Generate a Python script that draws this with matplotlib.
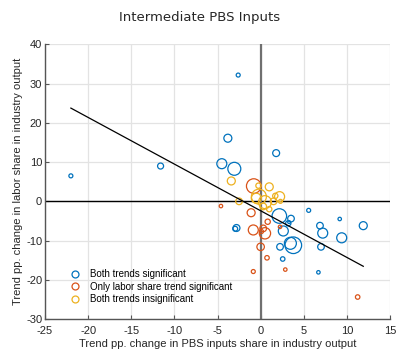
import matplotlib
matplotlib.use('Agg')
import matplotlib.pyplot as plt
from matplotlib.lines import Line2D
import numpy as np

# both trends significant
sig_x = [-22.0, -11.6, -2.6, -3.8, -4.5, -3.05, 1.8, -2.8, -2.95, 2.17, 3.52, 3.21, 3.3,
         2.63, 5.57, 6.88, 7.2, 9.17, 11.9, 9.4, 7.0, 3.79, 3.45, 2.25, 2.56, 6.7]
sig_y = [6.5, 9.0, 32.2, 16.1, 9.6, 8.3, 12.3, -6.8, -7.0, -3.74, -4.4, -5.6, -5.3,
         -7.56, -2.3, -6.2, -8.1, -4.5, -6.2, -9.3, -11.6, -11.2, -10.7, -11.6, -14.7, -18.1]
sig_w = [4, 9, 4, 16, 25, 42, 12, 12, 6, 53, 11, 7, 2,
         25, 4, 11, 25, 3, 16, 25, 11, 69, 36, 11, 5, 3]

# only labor share trend significant
lab_x = [-0.8, -1.1, 0.82, 2.25, -0.85, 0.3, 0.5, 0.0, 0.74, -0.85, 2.86, 11.25, -4.6, 0.1]
lab_y = [3.9, -2.9, -5.2, -6.5, -7.3, -6.9, -8.15, -11.6, -14.4, -17.9, -17.4, -24.4, -1.2, -7.7]
lab_w = [53, 16, 7, 3, 25, 11, 32, 14, 5, 4, 3, 5, 3, 4]

# both trends insignificant
ins_x = [-3.4, -2.5, -0.25, 1.0, -0.2, 2.2, 1.5, 0.3, 0.5, 1.7, 1.0, 2.3, -0.5]
ins_y = [5.2, 0.0, 4.0, 3.7, 1.2, 1.2, 0.0, -1.3, -0.2, 1.4, -2.0, 0.0, 0.8]
ins_w = [16, 11, 7, 16, 56, 25, 11, 11, 42, 7, 7, 4, 25]

# fitted line
fit_slope = -1.19
fit_icpt = -2.4

c_blue = '#0072BD'
c_orange = '#D95319'
c_yellow = '#EDB120'

plt.rcParams['font.family'] = ['Liberation Sans', 'DejaVu Sans']
plt.rcParams['axes.unicode_minus'] = False

fig = plt.figure(figsize=(4.0, 3.52), dpi=100)
ax = fig.add_axes([0.1125, 0.0938, 0.8625, 0.7798])

k = 2.07  # radius^2 (px) -> points^2
for xs, ys, ws, col in [(sig_x, sig_y, sig_w, c_blue),
                        (lab_x, lab_y, lab_w, c_orange),
                        (ins_x, ins_y, ins_w, c_yellow)]:
    ax.scatter(xs, ys, s=np.array(ws) * k, facecolors='none', edgecolors=col,
               linewidths=0.9, zorder=3)

all_x = np.array(sig_x + lab_x + ins_x)
xf = np.array([all_x.min(), all_x.max()])
ax.plot(xf, fit_icpt + fit_slope * xf, color='black', lw=0.9, zorder=4)

ax.axhline(0, color='black', lw=1.0, zorder=2)
ax.axvline(0, color='#707070', lw=1.6, zorder=2)

ax.set_xlim(-25, 15)
ax.set_ylim(-30, 40)
ax.set_xticks(np.arange(-25, 16, 5))
ax.set_yticks(np.arange(-30, 41, 10))
ax.grid(True, color='#e3e3e3', lw=0.9, zorder=0)
ax.set_axisbelow(True)
for side in ['top', 'right']:
    ax.spines[side].set_visible(False)
for side in ['left', 'bottom']:
    ax.spines[side].set_color('#555555')
    ax.spines[side].set_linewidth(1.0)
ax.tick_params(direction='in', length=3, width=0.8, color='#555555',
               labelsize=8, labelcolor='#262626')
ax.tick_params(axis='x', pad=5)
ax.tick_params(axis='y', pad=2)

ax.set_xlabel('Trend pp. change in PBS inputs share in industry output',
              fontsize=8, color='#262626', labelpad=2)
ax.set_ylabel('Trend pp. change in labor share in industry output',
              fontsize=8, color='#262626', labelpad=2)

fig.suptitle('Intermediate PBS Inputs', x=0.5, y=0.97, fontsize=9.5,
             family='DejaVu Sans', color='#262626')

handles = [Line2D([], [], ls='none', marker='o', ms=5, mfc='none', mew=0.9, mec=c)
           for c in (c_blue, c_orange, c_yellow)]
labels = ['Both trends significant', 'Only labor share trend significant',
          'Both trends insignificant']
ax.legend(handles, labels, loc='lower left', bbox_to_anchor=(0.05, 0.03),
          frameon=False, fontsize=7, handlelength=1.2, handletextpad=1.0,
          labelspacing=0.25, borderpad=0.2)

fig.savefig('out.png', dpi=100)
